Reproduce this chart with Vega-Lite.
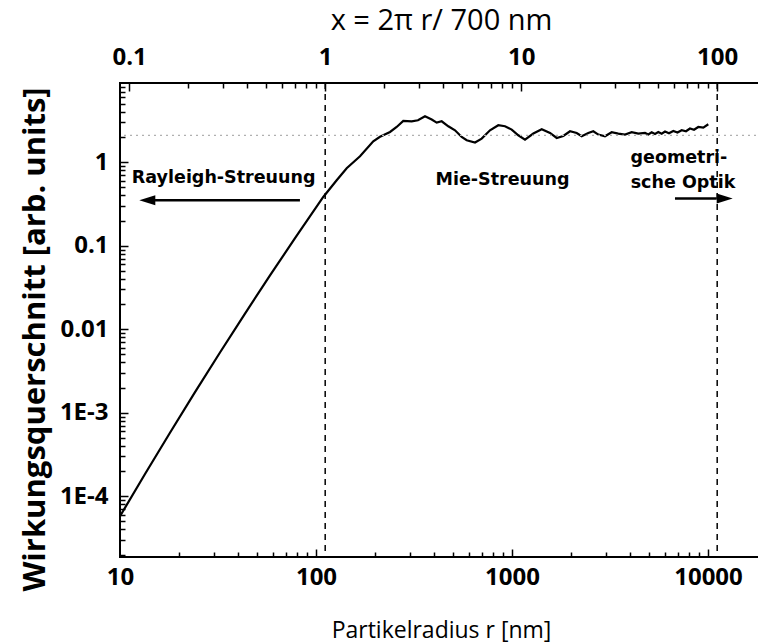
{
  "$schema": "https://vega.github.io/schema/vega-lite/v6.json",
  "width": 642,
  "height": 474,
  "autosize": "none",
  "padding": {"left": 120, "top": 83, "right": 0, "bottom": 87},
  "background": "white",
  "config": {
    "font": "Open Sans",
    "view": {"stroke": "black", "strokeWidth": 2},
    "axis": {"grid": false, "domain": false, "tickColor": "black", "tickWidth": 1.5, "labelColor": "black", "titleColor": "black", "labelFont": "Open Sans", "titleFont": "Open Sans"}
  },
  "datasets": {
    "curve": [
      {"r": 10, "s": 5.76e-5}, {"r": 13.417, "s": 1.842e-4}, {"r": 17.99, "s": 5.762e-4}, {"r": 24.14, "s": 1.762e-3},
      {"r": 32.37, "s": 5.268e-3}, {"r": 43.43, "s": 0.01541}, {"r": 58.26, "s": 0.0441}, {"r": 78.16, "s": 0.1234},
      {"r": 108.9, "s": 0.384}, {"r": 127.5, "s": 0.609}, {"r": 143.4, "s": 0.8474}, {"r": 167.7, "s": 1.18},
      {"r": 196.0, "s": 1.784}, {"r": 212.1, "s": 2.02},
      {"r": 238.6, "s": 2.306}, {"r": 258.0, "s": 2.647}, {"r": 278.8, "s": 3.123}, {"r": 307.7, "s": 3.097},
      {"r": 331.4, "s": 3.184}, {"r": 359.8, "s": 3.556}, {"r": 389.4, "s": 3.246}, {"r": 412.9, "s": 2.988},
      {"r": 437.8, "s": 3.097}, {"r": 473.2, "s": 2.699}, {"r": 512.1, "s": 2.416}, {"r": 553.8, "s": 2.009},
      {"r": 587.3, "s": 1.834}, {"r": 647.6, "s": 1.722}, {"r": 700.4, "s": 1.922}, {"r": 772.2, "s": 2.416},
      {"r": 851.3, "s": 2.774}, {"r": 921.0, "s": 2.699}, {"r": 996.6, "s": 2.464}, {"r": 1077, "s": 2.106},
      {"r": 1165, "s": 1.87}, {"r": 1285, "s": 2.207}, {"r": 1418, "s": 2.484}, {"r": 1563, "s": 2.243},
      {"r": 1691, "s": 1.954}, {"r": 1827, "s": 2.065}, {"r": 1977, "s": 2.351}, {"r": 2138, "s": 2.243},
      {"r": 2268, "s": 2.048}, {"r": 2451, "s": 2.243}, {"r": 2599, "s": 2.351}, {"r": 2756, "s": 2.147},
      {"r": 2982, "s": 2.048}, {"r": 3226, "s": 2.288}, {"r": 3486, "s": 2.207}, {"r": 3772, "s": 2.147},
      {"r": 4081, "s": 2.288}, {"r": 4410, "s": 2.207}, {"r": 4771, "s": 2.243}, {"r": 4960, "s": 2.15},
      {"r": 5161, "s": 2.288}, {"r": 5365, "s": 2.18}, {"r": 5578, "s": 2.306}, {"r": 5804, "s": 2.2},
      {"r": 6035, "s": 2.332}, {"r": 6324, "s": 2.23}, {"r": 6653, "s": 2.371}, {"r": 6988, "s": 2.27},
      {"r": 7342, "s": 2.416}, {"r": 7723, "s": 2.35}, {"r": 8093, "s": 2.533}, {"r": 8485, "s": 2.45},
      {"r": 8924, "s": 2.647}, {"r": 9462, "s": 2.6}, {"r": 10035, "s": 2.852}
    ],
    "vlines": [{"r": 111.41}, {"r": 11141}],
    "hline": [{"s": 2.1}],
    "labels": [
      {"r": 33.8, "s": 0.656, "t": "Rayleigh-Streuung"},
      {"r": 894.4, "s": 0.609, "t": "Mie-Streuung"},
      {"r": 7112, "s": 1.138, "t": "geometri-"},
      {"r": 7454, "s": 0.565, "t": "sche Optik"}
    ],
    "shafts": [
      {"r1": 15.09, "r2": 82.8, "s": 0.3506},
      {"r1": 6785, "r2": 11077, "s": 0.3675}
    ],
    "heads": [
      {"r": 13.78, "s": 0.3506, "dir": "left"},
      {"r": 12168, "s": 0.3675, "dir": "right"}
    ]
  },
  "layer": [
    {
      "data": {"name": "curve"},
      "mark": {"type": "line", "color": "black", "strokeWidth": 2.2},
      "encoding": {
        "x": {
          "field": "r", "type": "quantitative",
          "scale": {"type": "log", "domain": [10, 18860], "nice": false, "zero": false},
          "axis": {"orient": "bottom", "values": [10, 100, 1000, 10000], "labelExpr": "datum.value", "ticks": false, "labelPadding": 8, "labelFontSize": 24, "labelFontWeight": "bold", "title": "Partikelradius r [nm]", "titleFontSize": 23, "titleFontWeight": "normal", "titlePadding": 30, "labelFlush": false}
        },
        "y": {
          "field": "s", "type": "quantitative",
          "scale": {"type": "log", "domain": [1.87e-5, 8.9], "nice": false, "zero": false},
          "axis": {"orient": "left", "values": [0.0001, 0.001, 0.01, 0.1, 1], "labelExpr": "datum.value > 0.5 ? '1' : datum.value > 0.05 ? '0.1' : datum.value > 0.005 ? '0.01' : datum.value > 0.0005 ? '1E-3' : '1E-4'", "ticks": false, "labelPadding": 12, "labelFontSize": 24, "labelFontWeight": "bold", "title": "Wirkungsquerschnitt [arb. units]", "titleFontSize": 31, "titleFontWeight": "bold", "titlePadding": 8, "titleY": 256}
        }
      }
    },
    {
      "data": {"name": "hline"},
      "mark": {"type": "rule", "color": "#b0b0b0", "strokeDash": [2, 4], "strokeWidth": 1.2},
      "encoding": {
        "y": {
          "field": "s", "type": "quantitative",
          "axis": {"orient": "left", "values": [2e-5, 3e-5, 4e-5, 5e-5, 6e-5, 7e-5, 8e-5, 9e-5, 2e-4, 3e-4, 4e-4, 5e-4, 6e-4, 7e-4, 8e-4, 9e-4, 0.002, 0.003, 0.004, 0.005, 0.006, 0.007, 0.008, 0.009, 0.02, 0.03, 0.04, 0.05, 0.06, 0.07, 0.08, 0.09, 0.2, 0.3, 0.4, 0.5, 0.6, 0.7, 0.8, 0.9, 2, 3, 4, 5, 6, 7, 8], "labels": false, "tickSize": 5, "offset": -5, "title": null}
        }
      }
    },
    {
      "data": {"name": "vlines"},
      "mark": {"type": "rule", "color": "black", "strokeDash": [6, 5], "strokeWidth": 1.5},
      "encoding": {
        "x": {
          "field": "r", "type": "quantitative",
          "axis": {"orient": "top", "values": [11.141, 111.41, 1114.1, 11141], "labelExpr": "datum.value < 50 ? '0.1' : datum.value < 500 ? '1' : datum.value < 5000 ? '10' : '100'", "ticks": false, "labelPadding": 14, "labelFontSize": 24, "labelFontWeight": "bold", "title": "x = 2π r/ 700 nm", "titleFontSize": 29, "titleFontWeight": "normal", "titlePadding": 10, "labelFlush": false}
        }
      }
    },
    {
      "data": {"name": "vlines"},
      "mark": {"type": "rule", "opacity": 0},
      "encoding": {
        "x": {
          "field": "r", "type": "quantitative",
          "axis": {"orient": "top", "values": [11.141, 111.41, 1114.1, 11141], "labels": false, "tickSize": 8, "offset": -8, "title": null}
        }
      }
    },
    {
      "data": {"name": "labels"},
      "mark": {"type": "text", "fontSize": 17.5, "fontWeight": "bold", "color": "black", "baseline": "middle", "align": "center", "font": "DejaVu Sans"},
      "encoding": {
        "x": {
          "field": "r", "type": "quantitative",
          "axis": {"orient": "bottom", "values": [20, 30, 40, 50, 60, 70, 80, 90, 200, 300, 400, 500, 600, 700, 800, 900, 2000, 3000, 4000, 5000, 6000, 7000, 8000, 9000], "labels": false, "tickSize": 5, "offset": -5, "title": null}
        },
        "y": {"field": "s", "type": "quantitative", "axis": null},
        "text": {"field": "t"}
      }
    },
    {
      "data": {"name": "shafts"},
      "mark": {"type": "rule", "color": "black", "strokeWidth": 2.5},
      "encoding": {
        "x": {
          "field": "r1", "type": "quantitative",
          "axis": {"orient": "top", "values": [22.28, 33.42, 44.56, 55.7, 66.85, 77.99, 89.13, 100.27, 222.8, 334.2, 445.6, 557.0, 668.5, 779.9, 891.3, 1002.7, 2228, 3342, 4456, 5570, 6685, 7799, 8913, 10027], "labels": false, "tickSize": 5, "offset": -5, "title": null}
        },
        "x2": {"field": "r2"},
        "y": {
          "field": "s", "type": "quantitative",
          "axis": {"orient": "left", "values": [0.0001, 0.001, 0.01, 0.1, 1], "labels": false, "tickSize": 8, "offset": -8, "title": null}
        }
      }
    },
    {
      "data": {"name": "heads"},
      "mark": {"type": "point", "filled": true, "color": "black", "opacity": 1, "size": 256},
      "encoding": {
        "x": {
          "field": "r", "type": "quantitative",
          "axis": {"orient": "bottom", "values": [100, 1000, 10000], "labels": false, "tickSize": 8, "offset": -8, "title": null}
        },
        "y": {"field": "s", "type": "quantitative", "axis": null},
        "shape": {"field": "dir", "type": "nominal", "scale": {"domain": ["left", "right"], "range": ["M-1,0L1,-0.62L1,0.62Z", "M1,0L-1,-0.62L-1,0.62Z"]}, "legend": null}
      }
    }
  ],
  "resolve": {
    "scale": {"x": "shared", "y": "shared"},
    "axis": {"x": "independent", "y": "independent"}
  }
}
